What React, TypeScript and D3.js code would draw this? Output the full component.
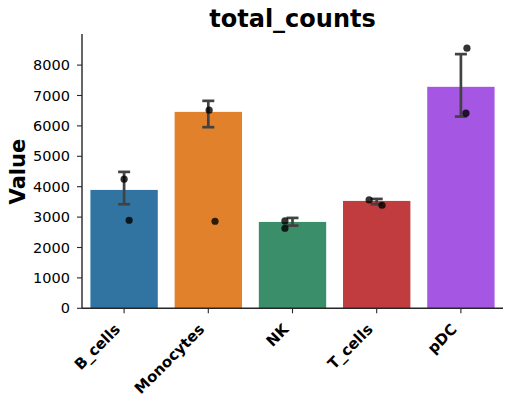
import React from "react";
import * as d3 from "d3";

// chart values
const categories = ["B_cells", "Monocytes", "NK", "T_cells", "pDC"];
const colors = ["#3274a1", "#e1812c", "#3a8e69", "#c03c3e", "#a557e4"];
const means = [3894, 6461, 2841, 3532, 7285];
const ciLow = [3423, 5958, 2719, 3423, 6307];
const ciHigh = [4487, 6824, 2973, 3598, 8361];
const pointCat = ["B_cells", "B_cells", "Monocytes", "Monocytes", "NK", "NK", "T_cells", "T_cells", "pDC", "pDC"];
const pointVal = [4246, 2897, 6517, 2864, 2874, 2633, 3565, 3390, 8558, 6419];
const pointJitter = [0, 0.06, 0.01, 0.08, -0.09, -0.09, -0.09, 0.063, 0.072, 0.06];
const yTicks = [0, 1000, 2000, 3000, 4000, 5000, 6000, 7000, 8000];

const width = 511;
const height = 403;
const margin = { top: 35, right: 8, bottom: 94.7, left: 82 };
const font = "DejaVu Sans, sans-serif";

export default function App() {
  const x = d3
    .scaleBand<string>()
    .domain(categories)
    .range([margin.left, width - margin.right])
    .paddingInner(0.2)
    .paddingOuter(0.1);
  const y = d3.scaleLinear().domain([0, 8990]).range([height - margin.bottom, margin.top]);
  const y0 = y(0);
  const cap = 6;
  const axisColor = "#262626";

  return (
    <svg width={width} height={height} style={{ position: "absolute", left: 0, top: 0, background: "#fff" }} fontFamily={font}>
      {/* title */}
      <text x={(margin.left + width - margin.right) / 2} y={27} textAnchor="middle" fontSize={24} fontWeight="bold" fill="#000">
        total_counts
      </text>

      {/* bars */}
      {categories.map((c, i) => (
        <rect key={c} x={x(c)} y={y(means[i])} width={x.bandwidth()} height={y0 - y(means[i])} fill={colors[i]} />
      ))}

      {/* error bars */}
      {categories.map((c, i) => {
        const cx = (x(c) ?? 0) + x.bandwidth() / 2;
        return (
          <g key={c} stroke="#424242" strokeWidth={2.7}>
            <line x1={cx} x2={cx} y1={y(ciLow[i])} y2={y(ciHigh[i])} />
            <line x1={cx - cap} x2={cx + cap} y1={y(ciLow[i])} y2={y(ciLow[i])} />
            <line x1={cx - cap} x2={cx + cap} y1={y(ciHigh[i])} y2={y(ciHigh[i])} />
          </g>
        );
      })}

      {/* individual points */}
      {pointVal.map((v, i) => (
        <circle
          key={i}
          cx={(x(pointCat[i]) ?? 0) + x.bandwidth() / 2 + pointJitter[i] * x.step()}
          cy={y(v)}
          r={3.6}
          fill="#000"
          fillOpacity={0.8}
        />
      ))}

      {/* y axis */}
      <line x1={margin.left} x2={margin.left} y1={margin.top - 1} y2={y0} stroke={axisColor} strokeWidth={1.4} />
      {yTicks.map((t) => (
        <g key={t} transform={`translate(0,${y(t)})`}>
          <line x1={margin.left - 5} x2={margin.left} stroke={axisColor} strokeWidth={1.1} />
          <text x={margin.left - 12} dy="0.35em" textAnchor="end" fontSize={14.5} fill="#000">
            {t}
          </text>
        </g>
      ))}
      <text transform={`translate(24.5,${(margin.top + y0) / 2}) rotate(-90)`} textAnchor="middle" fontSize={21} fontWeight="bold" fill="#000">
        Value
      </text>

      {/* x axis */}
      <line x1={margin.left} x2={width - margin.right} y1={y0} y2={y0} stroke={axisColor} strokeWidth={1.4} />
      {categories.map((c) => {
        const cx = (x(c) ?? 0) + x.bandwidth() / 2;
        return (
          <g key={c}>
            <line x1={cx} x2={cx} y1={y0} y2={y0 + 5} stroke={axisColor} strokeWidth={1.1} />
            <text
              transform={`translate(${cx - 3},${y0 + 22}) rotate(-45)`}
              textAnchor="end"
              fontSize={15}
              fontWeight="bold"
              fill="#000"
            >
              {c}
            </text>
          </g>
        );
      })}
    </svg>
  );
}
